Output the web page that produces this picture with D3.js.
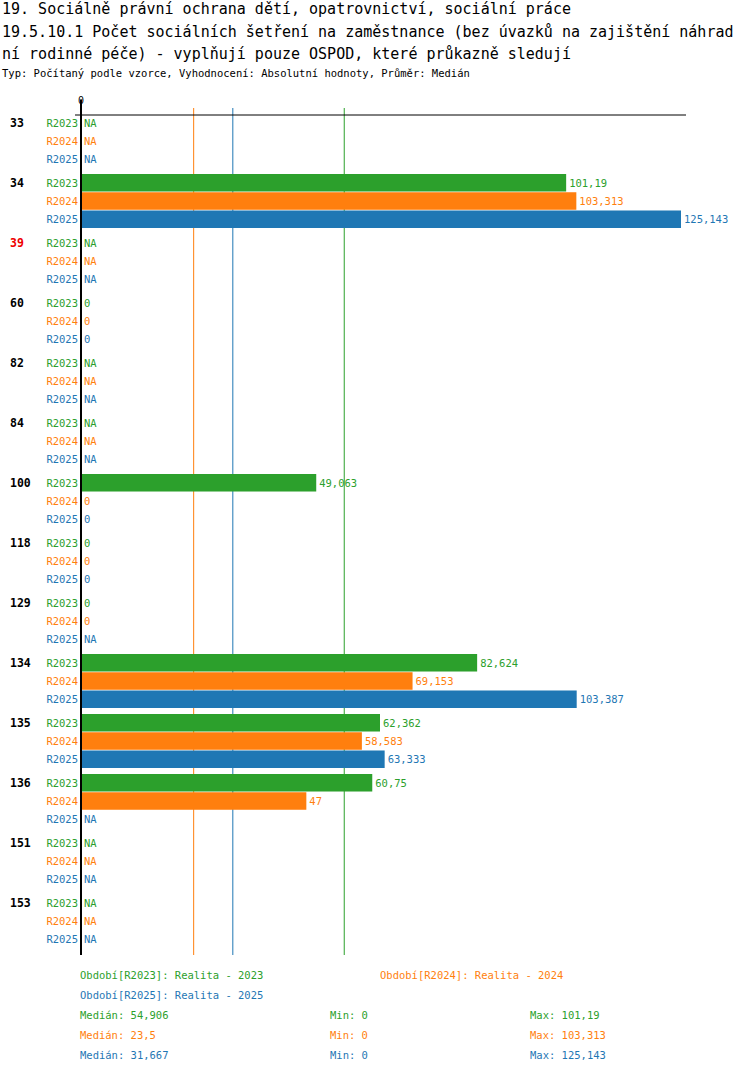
<!DOCTYPE html>
<html><head><meta charset="utf-8">
<script src="https://cdn.jsdelivr.net/npm/d3@7"></script>
<style>body{margin:0;background:#fff}text{font-family:"DejaVu Sans Mono",monospace}</style>
</head><body><svg id="c" width="750" height="1074"></svg>
<script>
var categories = ["33","34","39","60","82","84","100","118","129","134","135","136","151","153"];
var highlighted = ["39"];
var series = ["R2023","R2024","R2025"];
var colors = ["#2ca02c","#ff7f0e","#1f77b4"];
var r2023 = [null,101.19,null,0,null,null,49.063,0,0,82.624,62.362,60.75,null,null];
var r2024 = [null,103.313,null,0,null,null,0,0,0,69.153,58.583,47,null,null];
var r2025 = [null,125.143,null,0,null,null,0,0,null,103.387,63.333,null,null,null];
var medians = [54.906,23.5,31.667];
var mins = [0,0,0];
var maxs = [101.19,103.313,125.143];
var legendNames = ["Realita - 2023","Realita - 2024","Realita - 2025"];

var values = [r2023,r2024,r2025];
var svg = d3.select("#c");
var fmt = function(v){ return String(+v.toFixed(3)).replace(".", ","); };

svg.append("text").attr("x",2).attr("y",14).attr("font-size",15).text("19. Sociálně právní ochrana dětí, opatrovnictví, sociální práce");
svg.append("text").attr("x",2).attr("y",37).attr("font-size",15).text("19.5.10.1 Počet sociálních šetření na zaměstnance (bez úvazků na zajištění náhrad");
svg.append("text").attr("x",2).attr("y",59).attr("font-size",15).text("ní rodinné péče) - vyplňují pouze OSPOD, které průkazně sledují");
svg.append("text").attr("x",2).attr("y",77).attr("font-size",10.5).text("Typ: Počítaný podle vzorce, Vyhodnocení: Absolutní hodnoty, Průměr: Medián");

var x = d3.scaleLinear().domain([0,125.143]).range([81,681]);
var gy = d3.scaleBand().domain(categories).range([113,953]);
var sy = d3.scaleBand().domain(series).range([0,54]).paddingInner(0.04);

// median lines
[1,2,0].forEach(function(i){
  svg.append("line").attr("x1",x(medians[i])).attr("x2",x(medians[i])).attr("y1",108).attr("y2",955)
    .attr("stroke",colors[i]).attr("stroke-width",1);
});
svg.append("line").attr("x1",75).attr("x2",686).attr("y1",115).attr("y2",115).attr("stroke","#000");
svg.append("text").attr("x",x(0)).attr("y",104).attr("text-anchor","middle").attr("font-size",10).text("0");

var g = svg.selectAll("g.cat").data(categories).enter().append("g")
  .attr("transform",function(d){return "translate(0,"+(gy(d)+1)+")";});
g.append("text").attr("x",10).attr("y",sy("R2023")+13).attr("font-size",11.5).attr("font-weight","bold")
  .attr("fill",function(d){return highlighted.indexOf(d)>=0?"#e00":"#000";}).text(function(d){return d;});

series.forEach(function(s,si){
  g.append("text").attr("x",78).attr("y",sy(s)+12.5).attr("text-anchor","end").attr("font-size",10.5)
    .attr("fill",colors[si]).text(s);
  g.each(function(c,ci){
    var v = values[si][ci], sel = d3.select(this);
    if (v != null && v > 0) {
      sel.append("rect").attr("x",x(0)).attr("y",sy(s)).attr("width",x(v)-x(0)).attr("height",sy.bandwidth())
        .attr("fill",colors[si]);
    }
    sel.append("text").attr("x",(v!=null?x(v):x(0))+3).attr("y",sy(s)+12.5).attr("font-size",10.5)
      .attr("fill",colors[si]).text(v==null?"NA":fmt(v));
  });
});
svg.append("line").attr("x1",81).attr("x2",81).attr("y1",100).attr("y2",955).attr("stroke","#000").attr("stroke-width",2);

// legend
var lx = [80,380,80], ly = [979,979,999];
series.forEach(function(s,i){
  svg.append("text").attr("x",lx[i]).attr("y",ly[i]).attr("font-size",10.5).attr("fill",colors[i])
    .text("Období["+s+"]: "+legendNames[i]);
  svg.append("text").attr("x",80).attr("y",1019+i*20).attr("font-size",10.5).attr("fill",colors[i]).text("Medián: "+fmt(medians[i]));
  svg.append("text").attr("x",330).attr("y",1019+i*20).attr("font-size",10.5).attr("fill",colors[i]).text("Min: "+fmt(mins[i]));
  svg.append("text").attr("x",530).attr("y",1019+i*20).attr("font-size",10.5).attr("fill",colors[i]).text("Max: "+fmt(maxs[i]));
});
</script></body></html>
